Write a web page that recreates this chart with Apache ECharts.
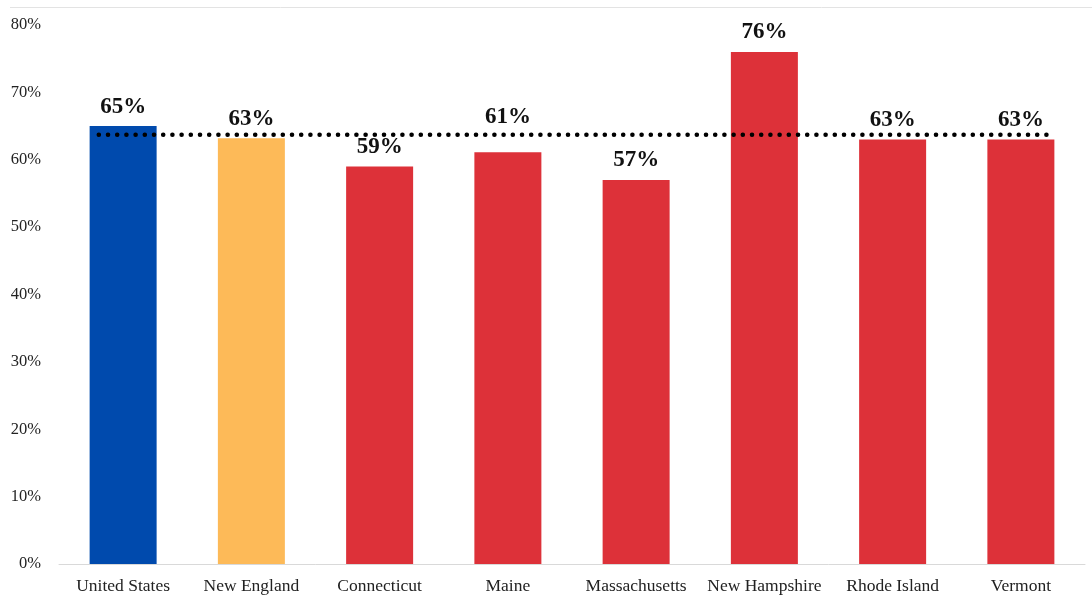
<!DOCTYPE html>
<html>
<head>
<meta charset="utf-8">
<script src="https://cdn.jsdelivr.net/npm/echarts@6/dist/echarts.min.js"></script>
<style>
html,body{margin:0;padding:0;background:#fff;}
#chart{width:1092px;height:597px;}
</style>
</head>
<body>
<div id="chart"></div>
<script>
const categories = ["United States","New England","Connecticut","Maine","Massachusetts","New Hampshire","Rhode Island","Vermont"];
const values = [65.0, 63.2, 59.0, 61.1, 57.0, 76.0, 63.0, 63.0];
const labels = ["65%","63%","59%","61%","57%","76%","63%","63%"];
const barColors = ["#004AAD","#FDBA58","#DD3139","#DD3139","#DD3139","#DD3139","#DD3139","#DD3139"];
const avgValue = 63.7;
const avgLineX = [-0.19, 7.21];
const yTicks = [0,10,20,30,40,50,60,70,80];

// label nudges (pixels) used by the original to keep a label clear of the dotted line
const labelNudge = {3: -16};

const FONT = '"Liberation Serif", "DejaVu Serif", serif';
const chart = echarts.init(document.getElementById('chart'), null, {renderer:'canvas'});
chart.setOption({
  animation:false,
  backgroundColor:'#fff',
  textStyle:{fontFamily:FONT},
  graphic:[{type:'line', shape:{x1:10,y1:7.5,x2:1092,y2:7.5}, style:{stroke:'#e3e3e3', lineWidth:1}}],
  grid:{left:59, right:7, top:25, bottom:33, containLabel:false},
  xAxis:[{
    type:'category', data:categories,
    axisLine:{lineStyle:{color:'#d9d9d9', width:1}},
    axisTick:{show:false},
    axisLabel:{color:'#222', fontSize:17.5, fontFamily:FONT, margin:13, interval:0}
  },{
    type:'value', min:-0.5, max:7.5, show:false
  }],
  yAxis:{
    type:'value', min:yTicks[0], max:yTicks[yTicks.length-1], interval:10,
    splitLine:{show:false}, axisLine:{show:false}, axisTick:{show:false},
    axisLabel:{color:'#222', fontSize:16.5, fontFamily:FONT, margin:18, formatter:'{value}%'}
  },
  series:[{
    type:'bar', xAxisIndex:0,
    data:values.map((v,i)=>({
      value:v,
      itemStyle:{color:barColors[i]},
      label: labelNudge[i] ? {offset:[0, labelNudge[i]]} : undefined
    })),
    barWidth:67,
    label:{show:true, position:'top', distance:8, fontSize:23, fontWeight:'bold', color:'#111', fontFamily:FONT,
      formatter:p=>labels[p.dataIndex]}
  },{
    type:'line', xAxisIndex:1, symbol:'none', z:5,
    data:avgLineX.map(x=>[x, avgValue]),
    lineStyle:{color:'#000', width:4.5, type:[0.1,9.1], cap:'round'}
  }]
});
</script>
</body>
</html>
